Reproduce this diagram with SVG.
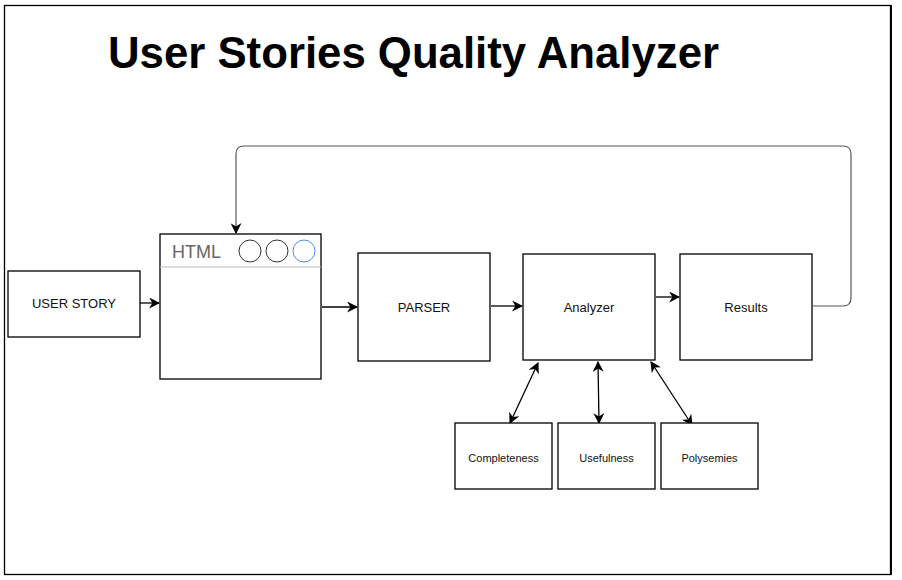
<svg xmlns="http://www.w3.org/2000/svg" width="902" height="580" viewBox="0 0 902 580">
<style>
.box{fill:#fff;stroke:#000;stroke-width:1.3}
.lbl{font-family:"Liberation Sans",Arial,sans-serif;font-size:13px;fill:#111;text-anchor:middle}
.sm{font-size:11px}
.con{fill:none;stroke:#000;stroke-width:1.3}
</style>
<defs>
<marker id="ah" viewBox="0 0 10 10" refX="9" refY="5" markerWidth="11" markerHeight="11" markerUnits="userSpaceOnUse" orient="auto-start-reverse">
<path d="M0,0 L10,5 L0,10 L3,5 Z" fill="#000"/>
</marker>
</defs>
<rect x="0" y="0" width="902" height="580" fill="#fff"/>
<rect x="4.5" y="5.5" width="886" height="569" fill="none" stroke="#000" stroke-width="1.3"/>
<line x1="891" y1="5" x2="891" y2="575" stroke="#000" stroke-width="2"/>
<text x="108" y="68" font-family="'Liberation Sans',Arial,sans-serif" font-weight="bold" font-size="44" textLength="611" lengthAdjust="spacingAndGlyphs" fill="#000">User Stories Quality Analyzer</text>

<g id="connectors">
<path class="con" d="M140,303 H159" marker-end="url(#ah)"/>
<path class="con" d="M322,307 H357" marker-end="url(#ah)"/>
<path class="con" d="M491,306 H522" marker-end="url(#ah)"/>
<path class="con" d="M656,297 H679" marker-end="url(#ah)"/>
<path d="M813,306 H843 Q851,306 851,298 V154 Q851,146 843,146 H244 Q236,146 236,154 V233" fill="none" stroke="#555" stroke-width="1.2" marker-end="url(#ah)"/>
<path class="con" d="M538,363 L510,423" marker-start="url(#ah)" marker-end="url(#ah)"/>
<path class="con" d="M598,362 L599,423" marker-start="url(#ah)" marker-end="url(#ah)"/>
<path class="con" d="M651,362 L692,425" marker-start="url(#ah)" marker-end="url(#ah)"/>
</g>

<g id="user-story">
<rect class="box" x="8" y="271" width="132" height="66"/>
<text class="lbl" x="74" y="308">USER STORY</text>
</g>
<g id="html">
<rect class="box" x="160" y="234" width="161" height="145"/>
<line x1="160" y1="267" x2="321" y2="267" stroke="#bbb" stroke-width="1"/>
<text x="172" y="258" font-family="'Liberation Sans',Arial,sans-serif" font-size="18" fill="#666">HTML</text>
<circle cx="250" cy="251" r="11" fill="#fff" stroke="#333" stroke-width="1"/>
<circle cx="277" cy="251" r="11" fill="#fff" stroke="#333" stroke-width="1"/>
<circle cx="304" cy="251" r="11" fill="#fff" stroke="#4a90e2" stroke-width="1"/>
</g>
<g id="parser">
<rect class="box" x="358" y="253" width="132" height="108"/>
<text class="lbl" x="424" y="312">PARSER</text>
</g>
<g id="analyzer">
<rect class="box" x="523" y="254" width="132" height="106"/>
<text class="lbl" x="589" y="312">Analyzer</text>
</g>
<g id="results">
<rect class="box" x="680" y="254" width="132" height="106"/>
<text class="lbl" x="746" y="312">Results</text>
</g>
<g id="completeness">
<rect class="box" x="455" y="423" width="97" height="66"/>
<text class="lbl sm" x="503.5" y="462">Completeness</text>
</g>
<g id="usefulness">
<rect class="box" x="558" y="423" width="97" height="66"/>
<text class="lbl sm" x="606.5" y="462">Usefulness</text>
</g>
<g id="polysemies">
<rect class="box" x="661" y="423" width="97" height="66"/>
<text class="lbl sm" x="709.5" y="462">Polysemies</text>
</g>
</svg>
